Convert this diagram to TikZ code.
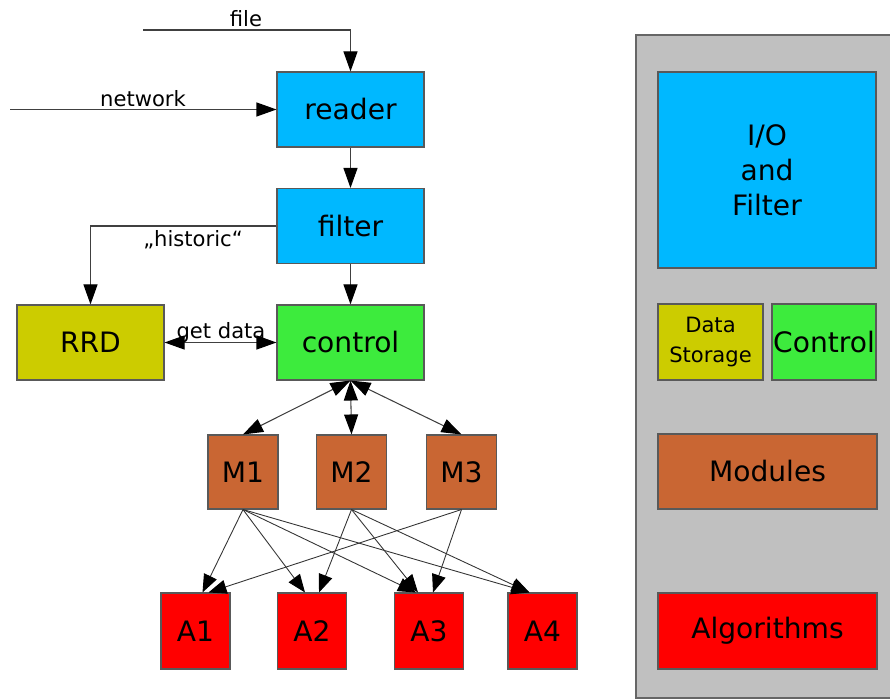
\documentclass[tikz,border=0pt]{standalone}
\usepackage{fontspec}
\setmainfont{DejaVu Sans}
\usetikzlibrary{arrows.meta,calc}

\definecolor{ioBlue}{RGB}{0,184,255}
\definecolor{rrdYellow}{RGB}{204,204,0}
\definecolor{ctrlGreen}{RGB}{61,235,61}
\definecolor{modBrown}{RGB}{201,102,51}
\definecolor{algRed}{RGB}{255,0,0}
\definecolor{panelGray}{RGB}{192,192,192}

\begin{document}
\begin{tikzpicture}[x=0.2mm,y=-0.2mm,
  block/.style={draw=black!65, line width=0.6pt, inner sep=0pt, align=center, font=\fontsize{16}{20}\selectfont},
  bigbox/.style={block, minimum width=29.4mm, minimum height=15mm},
  sqbox/.style={block, minimum width=13.8mm, minimum height=15mm},
  flow/.style={draw=black!75, line width=0.6pt, -{Triangle[length=4mm,width=2.8mm,color=black]}},
  twoway/.style={flow, {Triangle[length=4mm,width=2.8mm,color=black]}-{Triangle[length=4mm,width=2.8mm,color=black]}},
  fan/.style={draw=black!80, line width=0.5pt, -{Triangle[length=3.6mm,width=2.8mm,color=black]}},
  lbl/.style={font=\fontsize{12}{14}\selectfont, inner sep=0pt}]

\useasboundingbox (0,0) rectangle (890,700);

% legend panel
\fill[panelGray] (636,35) rectangle (890,698);
\draw[black!60, line width=0.8pt] (890,35) -- (636,35) -- (636,698) -- (890,698);

\node[block, fill=ioBlue, minimum width=43.6mm, minimum height=39.2mm] (ioKey) at (767,170) {I/O\\and\\Filter};
\node[block, fill=rrdYellow, minimum width=21mm, minimum height=15.2mm, font=\fontsize{12}{17}\selectfont] (storeKey) at (710.5,342) {Data\\Storage};
\node[block, fill=ctrlGreen, minimum width=20.8mm, minimum height=15.2mm] (ctrlKey) at (824,342) {Control};
\node[block, fill=modBrown, minimum width=43.8mm, minimum height=15mm] (modKey) at (767.5,471.5) {Modules};
\node[block, fill=algRed, minimum width=43.8mm, minimum height=15.2mm] (algKey) at (767.5,631) {Algorithms};

% data flow
\node[bigbox, fill=ioBlue] (reader) at (350.5,109.5) {reader};
\node[bigbox, fill=ioBlue] (filter) at (350.5,226) {filter};
\node[bigbox, fill=ctrlGreen] (control) at (350.5,342.5) {control};
\node[bigbox, fill=rrdYellow] (rrd) at (90.5,342.5) {RRD};

\node[sqbox, fill=modBrown, minimum width=14mm, minimum height=14.8mm] (m1) at (243,472) {M1};
\node[sqbox, fill=modBrown, minimum width=14mm, minimum height=14.8mm] (m2) at (351.5,472) {M2};
\node[sqbox, fill=modBrown, minimum width=14mm, minimum height=14.8mm] (m3) at (461.5,472) {M3};

\node[sqbox, fill=algRed, minimum height=15.2mm] (a1) at (195.5,631) {A1};
\node[sqbox, fill=algRed, minimum height=15.2mm] (a2) at (312,631) {A2};
\node[sqbox, fill=algRed, minimum height=15.2mm] (a3) at (429,631) {A3};
\node[sqbox, fill=algRed, minimum height=15.2mm] (a4) at (542.5,631) {A4};

\coordinate (fileIn) at (143,30);
\coordinate (netIn) at (10,109.5);

\node[lbl] (fileLbl) at (246,19) {file};
\node[lbl] (netLbl) at (143,99) {network};
\node[lbl] (histLbl) at (193,240) {„historic“};
\node[lbl] (getLbl) at (221,333) {get data};

\draw[flow] (fileIn) -| (reader.north);
\draw[flow] (netIn) -- (reader.west);
\draw[flow] (reader) -- (filter);
\draw[flow] (filter) -- (control);
\draw[flow] (filter.west) -| (rrd.north);
\draw[twoway] (rrd) -- (control);

\draw[twoway] (control.south) -- (m1.north);
\draw[twoway] (control.south) -- (m2.north);
\draw[twoway] (control.south) -- (m3.north);

\foreach \a/\dx in {a1/7, a2/-7, a3/-13, a4/-13}
  \draw[fan] (m1.south) -- ($(\a.north)+(\dx,0)$);
\foreach \a/\dx in {a2/7, a3/-11, a4/-13}
  \draw[fan] (m2.south) -- ($(\a.north)+(\dx,0)$);
\foreach \a/\dx in {a1/13, a3/4}
  \draw[fan] (m3.south) -- ($(\a.north)+(\dx,0)$);
\end{tikzpicture}
\end{document}
